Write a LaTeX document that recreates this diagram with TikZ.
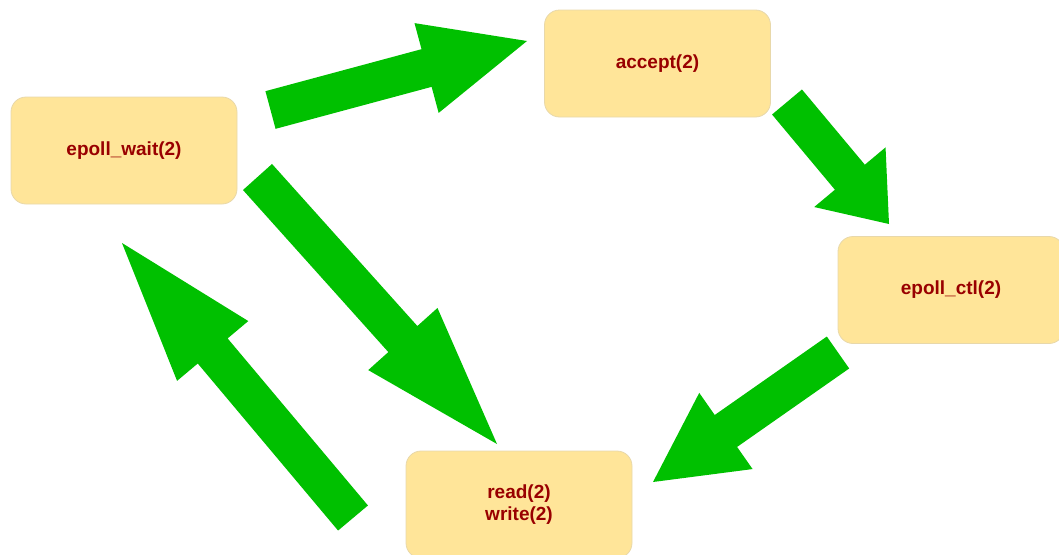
\documentclass[tikz,border=0pt]{standalone}
\usepackage{fontspec}
\setmainfont{Liberation Sans}
\usetikzlibrary{calc}
\definecolor{boxfill}{RGB}{255,229,153}
\definecolor{boxline}{RGB}{232,216,170}
\definecolor{txt}{RGB}{153,0,0}
\definecolor{arrowgreen}{RGB}{0,192,0}
\tikzset{
  callbox/.style={draw=boxline, line width=0.8pt, fill=boxfill, rounded corners=15pt,
    minimum width=226pt, minimum height=107pt, inner sep=0pt,
    text=txt, font=\fontsize{19}{22.5}\selectfont\bfseries, align=center},
}
\newcommand\blockarrow[3]{%
  \coordinate (hb) at ($(#2)!#3!(#1)$);
  \fill[arrowgreen]
    ($(#1)!19.5pt!90:(#2)$) -- ($(hb)!19.5pt!90:(#2)$) -- ($(hb)!46.5pt!90:(#2)$) --
    (#2) -- ($(hb)!46.5pt!-90:(#2)$) -- ($(hb)!19.5pt!-90:(#2)$) --
    ($(#1)!19.5pt!-90:(#2)$) -- cycle;
}
\begin{document}
\begin{tikzpicture}[x=1pt,y=-1pt]
\useasboundingbox (0,0) rectangle (1059,554);
\clip (0,0) rectangle (1059,554);
\node[callbox] (wait) at (124,150.5) {epoll\_wait(2)};
\node[callbox] (accept) at (657.5,63.5) {accept(2)};
\node[callbox] (ctl) at (951,290) {epoll\_ctl(2)};
\node[callbox] (rw) at (519,504.5) {read(2)\\write(2)};
\coordinate (a1s) at (270.5,110); \coordinate (a1e) at (527,41);
\coordinate (a2s) at (787,102);   \coordinate (a2e) at (889,224);
\coordinate (a3s) at (838,352.5); \coordinate (a3e) at (653,482);
\coordinate (a4s) at (257.5,177); \coordinate (a4e) at (497,444);
\coordinate (a5s) at (353,518);   \coordinate (a5e) at (122,243);
\blockarrow{a1s}{a1e}{104pt}
\blockarrow{a2s}{a2e}{61pt}
\blockarrow{a3s}{a3e}{89pt}
\blockarrow{a4s}{a4e}{141pt}
\blockarrow{a5s}{a5e}{141pt}
\end{tikzpicture}
\end{document}
